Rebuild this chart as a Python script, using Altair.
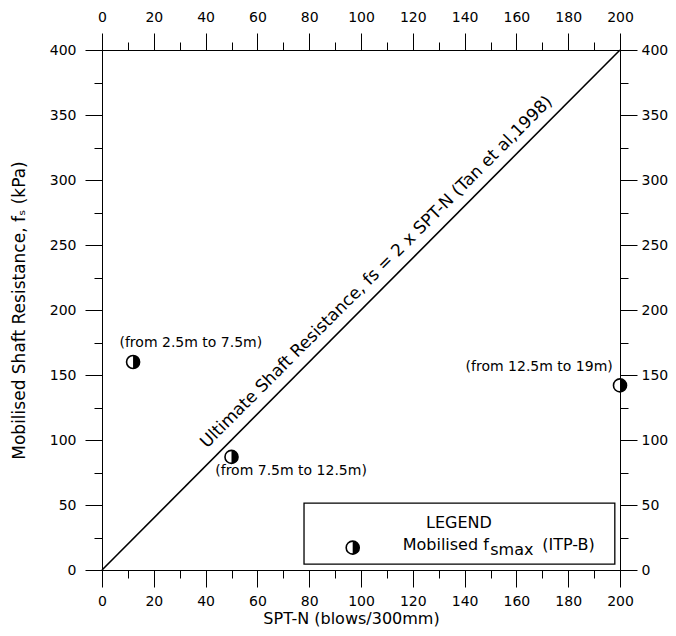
import altair as alt
import pandas as pd

# ---- data ----
spt_n = [12, 50, 200]
fs_kpa = [160, 87, 142]
point_labels = ["(from 2.5m to 7.5m)", "(from 7.5m to 12.5m)", "(from 12.5m to 19m)"]
label_x = [34.3, 73.0, 168.8]
label_y = [174.4, 76.4, 156.2]

line_x = [0, 200]
line_y = [0, 400]
line_text = "Ultimate Shaft Resistance, fs = 2 x SPT-N (Tan et al,1998)"
line_text_x = [106.0]
line_text_y = [229.2]

x_major = list(range(0, 201, 20))
x_minor = list(range(10, 200, 20))
y_major = list(range(0, 401, 50))
y_minor = list(range(25, 400, 50))

legend_box_x = [78.0]
legend_box_x2 = [198.0]
legend_box_y = [4.5]
legend_box_y2 = [51.5]
legend_title = ["LEGEND"]
legend_title_x = [137.8]
legend_title_y = [36.2]
legend_marker_x = [96.8]
legend_marker_y = [17.2]
legend_parts = ["Mobilised f", "smax", "(ITP-B)"]
legend_parts_x = [116.1, 149.9, 170.0]
legend_parts_y = [19.2, 15.4, 19.2]

FONT = "DejaVu Sans"

xs = alt.Scale(domain=[0, 200], nice=False, zero=False)
ys = alt.Scale(domain=[0, 400], nice=False, zero=False)


def ax(orient, values, size, labels=True, title=None, tfs=16, **kw):
    pad = {"top": 9, "bottom": 7, "left": 9, "right": 4}[orient]
    return alt.Axis(orient=orient, values=values, tickSize=size, labels=labels,
                    grid=False, domainColor="black", tickColor="black",
                    domainWidth=1, tickWidth=1, labelColor="black",
                    labelFont=FONT, labelFontSize=14, labelPadding=pad,
                    labelFlush=False, labelOverlap=False,
                    title=title, titleFont=FONT, titleFontSize=tfs,
                    titleFontWeight="normal", titleColor="black", **kw)


pts = pd.DataFrame({"x": spt_n, "y": fs_kpa})
labs = pd.DataFrame({"x": label_x, "y": label_y, "t": point_labels})
ln = pd.DataFrame({"x": line_x, "y": line_y})
lt = pd.DataFrame({"x": line_text_x, "y": line_text_y, "t": [line_text]})

HALF = "M0,-1A1,1 0 0 1 0,1Z"
MSIZE = 170

line = alt.Chart(ln).mark_line(color="black", strokeWidth=1.6).encode(
    x=alt.X("x:Q", scale=xs, axis=ax("bottom", x_major, 17, title="SPT-N (blows/300mm)",
                                     titlePadding=2, titleX=249)),
    y=alt.Y("y:Q", scale=ys, axis=ax("left", y_major, 17,
                                     title="Mobilised Shaft Resistance, fₛ (kPa)",
                                     titlePadding=21, tfs=17)),
)

circ = alt.Chart(pts).mark_point(shape="circle", filled=True, fill="white", stroke="black",
                                 strokeWidth=1.6, size=MSIZE, opacity=1).encode(
    x=alt.X("x:Q", scale=xs, axis=ax("top", x_major, 17)),
    y=alt.Y("y:Q", scale=ys, axis=ax("right", y_major, 17)),
)

half = alt.Chart(pts).mark_point(shape=HALF, filled=True, fill="black", strokeWidth=0,
                                 size=MSIZE, opacity=1).encode(
    x=alt.X("x:Q", scale=xs, axis=ax("bottom", x_minor, 8, labels=False)),
    y=alt.Y("y:Q", scale=ys, axis=ax("left", y_minor, 8, labels=False)),
)

ptxt = alt.Chart(labs).mark_text(font=FONT, fontSize=14, color="black", align="center",
                                 baseline="middle").encode(
    x=alt.X("x:Q", scale=xs, axis=ax("top", x_minor, 8, labels=False)),
    y=alt.Y("y:Q", scale=ys, axis=ax("right", y_minor, 8, labels=False)),
    text="t:N",
)

ltxt = alt.Chart(lt).mark_text(font=FONT, fontSize=17, color="black", align="center",
                               baseline="middle", angle=315).encode(
    x=alt.X("x:Q", scale=xs, axis=None),
    y=alt.Y("y:Q", scale=ys, axis=None),
    text="t:N",
)

box = alt.Chart(pd.DataFrame({"x": legend_box_x, "x2": legend_box_x2,
                              "y": legend_box_y, "y2": legend_box_y2})).mark_rect(
    fill="white", stroke="black", strokeWidth=1.3).encode(
    x=alt.X("x:Q", scale=xs, axis=None), x2="x2:Q",
    y=alt.Y("y:Q", scale=ys, axis=None), y2="y2:Q",
)

ltitle = alt.Chart(pd.DataFrame({"x": legend_title_x, "y": legend_title_y, "t": legend_title})).mark_text(
    font=FONT, fontSize=16, color="black", align="center", baseline="middle").encode(
    x=alt.X("x:Q", scale=xs, axis=None), y=alt.Y("y:Q", scale=ys, axis=None), text="t:N")

lm = pd.DataFrame({"x": legend_marker_x, "y": legend_marker_y})
lcirc = alt.Chart(lm).mark_point(shape="circle", filled=True, fill="white", stroke="black",
                                 strokeWidth=1.6, size=MSIZE, opacity=1).encode(
    x=alt.X("x:Q", scale=xs, axis=None), y=alt.Y("y:Q", scale=ys, axis=None))
lhalf = alt.Chart(lm).mark_point(shape=HALF, filled=True, fill="black", strokeWidth=0,
                                 size=MSIZE, opacity=1).encode(
    x=alt.X("x:Q", scale=xs, axis=None), y=alt.Y("y:Q", scale=ys, axis=None))

lparts = alt.Chart(pd.DataFrame({"x": legend_parts_x, "y": legend_parts_y, "t": legend_parts})).mark_text(
    font=FONT, fontSize=16, color="black", align="left", baseline="middle").encode(
    x=alt.X("x:Q", scale=xs, axis=None), y=alt.Y("y:Q", scale=ys, axis=None), text="t:N")

chart = alt.layer(line, circ, half, ptxt, ltxt, box, ltitle, lcirc, lhalf, lparts).resolve_axis(
    x="independent", y="independent"
).properties(
    width=518, height=520,
    autosize=alt.AutoSizeParams(type="none"),
    padding={"left": 94, "top": 42, "right": 48, "bottom": 58},
    background="white",
).configure_view(stroke=None)

chart.save("out.html", embed_options={"renderer": "svg", "actions": False})
